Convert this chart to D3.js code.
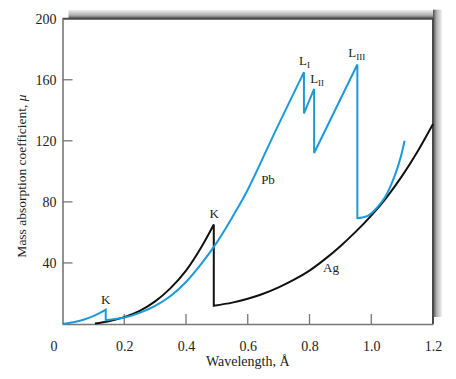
<!DOCTYPE html>
<html><head><meta charset="utf-8">
<script src="https://cdn.jsdelivr.net/npm/d3@7"></script>
<style>
body{margin:0;background:#fff;}
svg{display:block;font-family:"Liberation Serif","Times New Roman",serif;}
</style></head>
<body><svg id="c" width="456" height="379"></svg>
<script>
// ---- data (wavelength Å, mass absorption coefficient μ) ----
const pbBelowK   = [[0.0,0],[0.035,1.1],[0.07,2.9],[0.105,5.6],[0.14,9.4]];
const pbKtoL1    = [[0.14,2.4],[0.2,4.2],[0.25,7.3],[0.3,11.8],[0.35,18.3],[0.4,27.5],[0.45,39.5],[0.5,53.5],[0.55,70],[0.6,88],[0.69,126.5],[0.782,165]];
const pbL1toL2   = [[0.782,138],[0.815,154]];
const pbL2toL3   = [[0.815,112],[0.955,170]];
const pbAboveL3  = [[0.955,69.3],[0.97,69.8],[0.99,71],[1.02,76.5],[1.046,83.5],[1.075,96.5],[1.095,109],[1.108,120]];
const agBelowK   = [[0.105,0.3],[0.15,1.8],[0.2,4.5],[0.25,8.6],[0.3,14.8],[0.35,23.5],[0.4,35],[0.45,50.5],[0.49,65.2]];
const agAboveK   = [[0.49,12],[0.55,14],[0.6,16.5],[0.65,19.8],[0.7,24],[0.75,29],[0.8,35],[0.85,42.5],[0.9,51],[0.95,60.5],[1.0,71],[1.05,83],[1.1,97],[1.15,113],[1.2,131]];
const xTicks = [0,0.2,0.4,0.6,0.8,1.0,1.2];
const yTicks = [40,80,120,160,200];
const xTickLabels = ["0","0.2","0.4","0.6","0.8","1.0","1.2"];
const yTickLabels = ["40","80","120","160","200"];

const svg = d3.select("#c");
const x = d3.scaleLinear().domain([0,1.2]).range([62.5,433]);
const y = d3.scaleLinear().domain([0,200]).range([324,18.7]);

// frame shadow gradients
const defs = svg.append("defs");
const gTop = defs.append("linearGradient").attr("id","gTop").attr("x1",0).attr("y1",0).attr("x2",0).attr("y2",1);
gTop.append("stop").attr("offset","0%").attr("stop-color","#f2f2f2");
gTop.append("stop").attr("offset","60%").attr("stop-color","#b0b0b0");
gTop.append("stop").attr("offset","100%").attr("stop-color","#505050");
const gRight = defs.append("linearGradient").attr("id","gRight").attr("x1",0).attr("y1",0).attr("x2",1).attr("y2",0);
gRight.append("stop").attr("offset","0%").attr("stop-color","#505050");
gRight.append("stop").attr("offset","40%").attr("stop-color","#b0b0b0");
gRight.append("stop").attr("offset","100%").attr("stop-color","#f2f2f2");

const X0 = x(0), X1 = x(1.2), Y0 = y(0), Y1 = y(200);
svg.append("rect").attr("x",X0+6).attr("y",Y1-9).attr("width",X1-X0+3).attr("height",9).attr("fill","url(#gTop)");
svg.append("rect").attr("x",X1).attr("y",Y1-9).attr("width",9).attr("height",Y0-7-(Y1-9)).attr("fill","url(#gRight)");
svg.append("line").attr("x1",X0).attr("x2",X1+1).attr("y1",Y1).attr("y2",Y1).attr("stroke","#4a4a4a").attr("stroke-width",2);
svg.append("line").attr("x1",X1).attr("x2",X1).attr("y1",Y1).attr("y2",Y0).attr("stroke","#4a4a4a").attr("stroke-width",2);

// axes
const gx = svg.append("g").attr("transform",`translate(0,${Y0})`)
  .call(d3.axisBottom(x).tickValues(xTicks).tickSize(0).tickFormat((d,i)=>xTickLabels[i]));
gx.select(".domain").attr("stroke","#777").attr("stroke-width",1.6);
gx.selectAll("text").attr("font-size",14).attr("fill","#222").attr("font-family","Liberation Serif").attr("y",17)
  .attr("dx",(d)=> d===0 ? -9 : 0);
svg.append("g").selectAll("line").data(xTicks.filter(d=>d>0 && d<1.2)).join("line")
  .attr("x1",d=>x(d)).attr("x2",d=>x(d)).attr("y1",Y0).attr("y2",Y0-10).attr("stroke","#777").attr("stroke-width",1.3);

const gy = svg.append("g").attr("transform",`translate(${X0},0)`)
  .call(d3.axisLeft(y).tickValues(yTicks).tickSize(0).tickPadding(6).tickFormat((d,i)=>yTickLabels[i]));
gy.select(".domain").attr("stroke","#777").attr("stroke-width",1.6);
gy.selectAll("text").attr("font-size",14).attr("fill","#222").attr("font-family","Liberation Serif");
svg.append("g").selectAll("line").data(yTicks.filter(d=>d<200)).join("line")
  .attr("x1",X0).attr("x2",X0+10).attr("y1",d=>y(d)).attr("y2",d=>y(d)).attr("stroke","#777").attr("stroke-width",1.3);

// curves
const line = d3.line().x(d=>x(d[0])).y(d=>y(d[1])).curve(d3.curveCatmullRom.alpha(0.5));
function joined(segs){
  return segs.map((s,i)=>{ const p=line(s); return i===0?p:"L"+p.slice(1); }).join("");
}
svg.append("path").attr("d",joined([agBelowK,agAboveK])).attr("fill","none")
  .attr("stroke","#111").attr("stroke-width",2).attr("stroke-linejoin","miter");
svg.append("path").attr("d",joined([pbBelowK,pbKtoL1,pbL1toL2,pbL2toL3,pbAboveL3])).attr("fill","none")
  .attr("stroke","#1c9ad8").attr("stroke-width",2).attr("stroke-linejoin","miter");

// annotations
const ann = svg.append("g").attr("font-size",13).attr("fill","#222").attr("text-anchor","middle");
ann.append("text").attr("x",x(0.14)).attr("y",y(9.4)-6).text("K");
ann.append("text").attr("x",x(0.49)+0.5).attr("y",y(65.2)-6).text("K");
ann.append("text").attr("x",268).attr("y",184).text("Pb");
ann.append("text").attr("x",331).attr("y",272).text("Ag");
function lab(xx,yy,sub){
  const t = ann.append("text").attr("x",xx).attr("y",yy).attr("text-anchor","start");
  t.append("tspan").text("L");
  t.append("tspan").attr("font-size",9).attr("dy",3).text(sub);
}
lab(x(0.782)-5,y(165)-7,"I");
lab(x(0.815)-4,y(154)-6,"II");
lab(x(0.955)-9,y(170)-7,"III");

// axis titles
svg.append("text").attr("x",(X0+X1)/2).attr("y",366).attr("text-anchor","middle").attr("font-size",14).attr("fill","#222")
  .text("Wavelength, Å");
const yt = svg.append("text").attr("transform","translate(26,176) rotate(-90)").attr("text-anchor","middle")
  .attr("font-size",13.5).attr("fill","#222");
yt.append("tspan").text("Mass absorption coefficient, ");
yt.append("tspan").attr("font-style","italic").text("μ");
</script></body></html>
